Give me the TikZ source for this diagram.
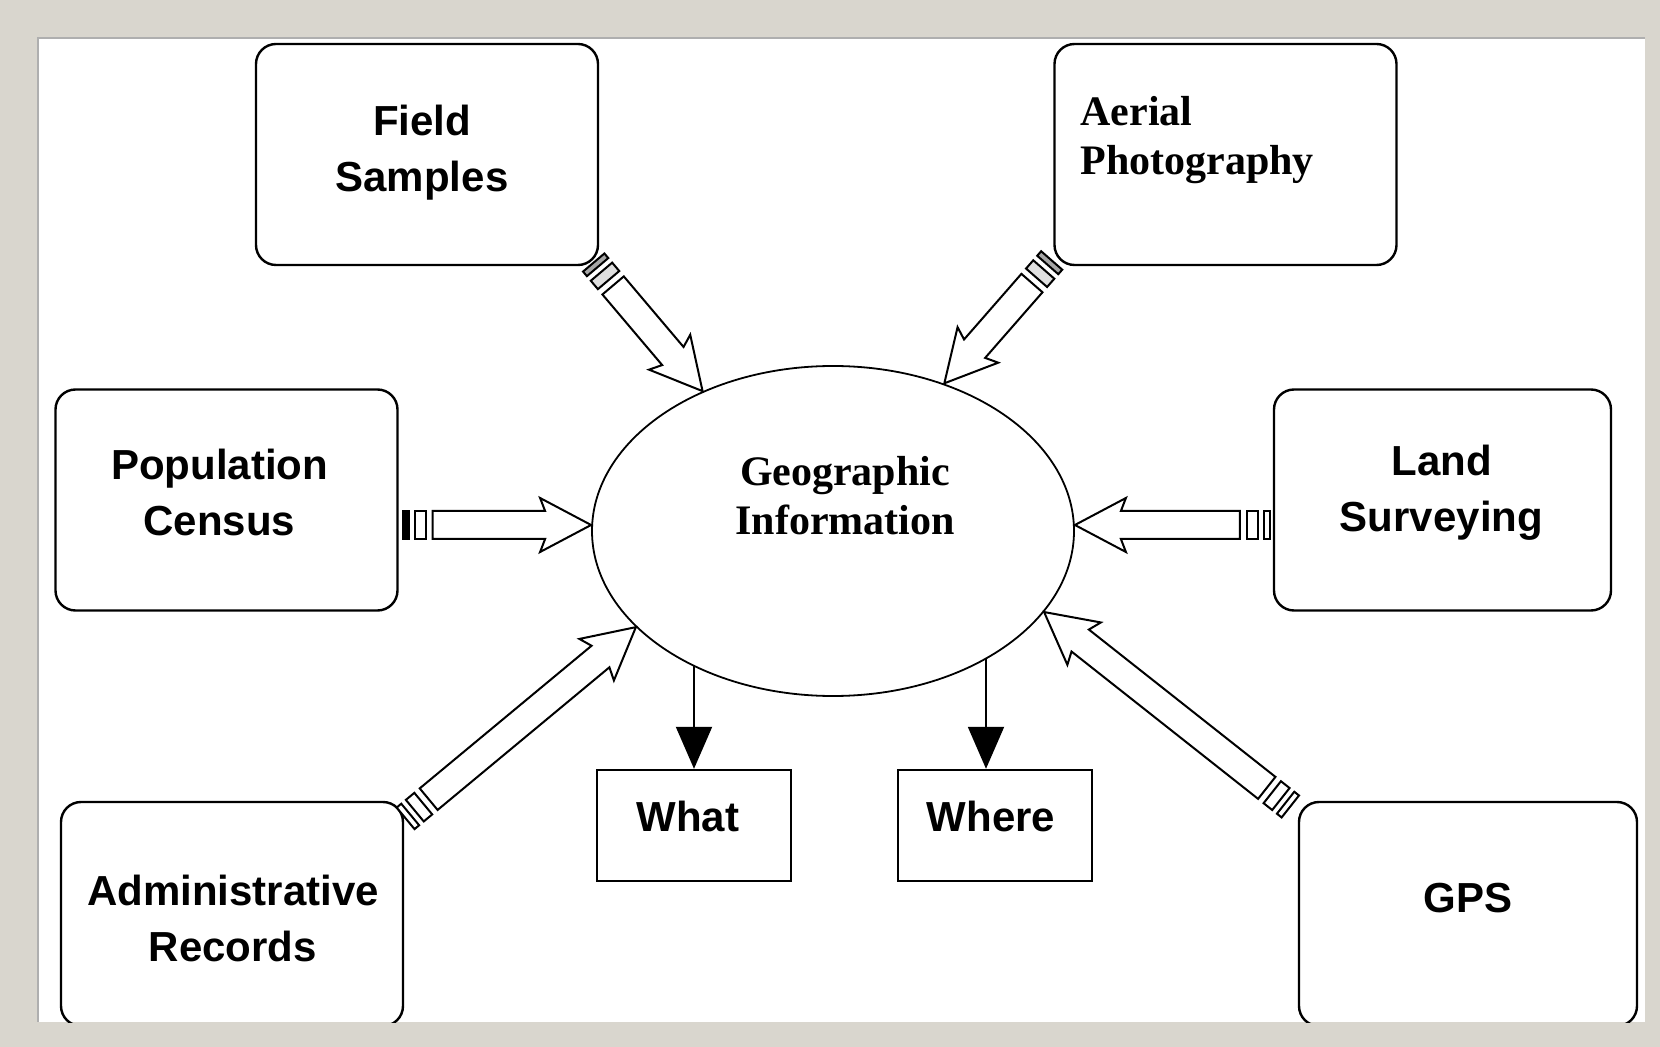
\documentclass[tikz,border=0pt]{standalone}
\usepackage{fontspec}
\newfontfamily\arialf{Liberation Sans}
\newfontfamily\timesf{Liberation Serif}
\usetikzlibrary{calc,arrows.meta,shapes.geometric}
\definecolor{framegray}{RGB}{217,214,206}
\definecolor{shadowgray}{RGB}{175,175,175}

% #1 tail coordinate, #2 tip coordinate, #3 fill of first tail block, #4 fill of second tail block
\newcommand\blockarrow[4]{%
  \path let \p1=($(#2)-(#1)$) in \pgfextra{%
    \pgfmathparse{atan2(\y1,\x1)}\xdef\baAng{\pgfmathresult}%
    \pgfmathparse{2*veclen(\x1,\y1)}\xdef\baLen{\pgfmathresult}};
  \begin{scope}[shift={(#1)}, rotate=\baAng, x=0.5pt, y=0.5pt]
    \draw[blockline, fill=#3] (7,-14) rectangle (13,14);
    \draw[blockline, fill=#4] (19,-14) rectangle (30,14);
    \draw[blockline, fill=white] (37,-14) -- ({\baLen-46},-14) -- ({\baLen-51},-27)
      -- (\baLen,0) -- ({\baLen-51},27) -- ({\baLen-46},14) -- (37,14) -- cycle;
  \end{scope}
}

\begin{document}
\begin{tikzpicture}[x=0.5pt,y=-0.5pt,
  box/.style={draw, line width=1.2pt, rounded corners=10pt, minimum width=171pt, minimum height=110.5pt, inner sep=0},
  sqbox/.style={draw, line width=1.2pt, minimum width=97pt, minimum height=55.5pt, inner sep=0},
  lbl/.style={font=\arialf\bfseries\fontsize{21}{28}\selectfont, align=center, inner sep=0},
  slbl/.style={font=\timesf\bfseries\fontsize{21}{24.5}\selectfont, inner sep=0},
  blockline/.style={line width=1pt, line join=miter},
  downarr/.style={line width=1pt, -{Triangle[width=18pt,length=21pt]}}]

\useasboundingbox (0,0) rectangle (1660,1047);
\fill[framegray] (0,0) rectangle (1660,1047);
\fill[white] (37,37) rectangle (1645,1022);
\draw[shadowgray, line width=1pt] (38,1022) -- (38,38) -- (1645,38);

\begin{scope}
\clip (37,37) rectangle (1645,1022);

% boxes
\node[box] (fs) at (427,154.5) {};
\node[box] (ap) at (1225.5,154.5) {};
\node[box] (pc) at (226.5,500) {};
\node[box, minimum width=168.5pt] (ls) at (1442.5,500) {};
\node[box, minimum height=112pt] (ar) at (232,914) {};
\node[box, minimum width=169pt, minimum height=112pt] (gps) at (1468,914) {};
\node[sqbox] (what) at (694,825.5) {};
\node[sqbox] (where) at (995,825.5) {};
\node[draw, ellipse, line width=0.9pt, minimum width=241pt, minimum height=165pt, inner sep=0] (geo) at (833,531) {};

% labels
\node[lbl] (fsT) at ([shift={(-5,-2)}]fs.center) {Field\\Samples};
\node[slbl, anchor=north west, align=left] (apT) at ([shift={(-145.5,-58.5)}]ap.center) {Aerial\\Photography};
\node[lbl] (pcT) at ([shift={(-7,-8)}]pc.center) {Population\\Census};
\node[lbl] (lsT) at ([shift={(-1,-7)}]ls.center) {Land\\Surveying};
\node[lbl] (arT) at ([shift={(1,4)}]ar.center) {Administrative\\Records};
\node[lbl] (gpsT) at ([shift={(0,-16)}]gps.center) {GPS};
\node[lbl] (whatT) at ([shift={(-6,-9)}]what.center) {What};
\node[lbl] (whereT) at ([shift={(-4,-9)}]where.center) {Where};
\node[slbl, align=center] (geoT) at ([shift={(12,-35)}]geo.center) {Geographic\\Information};

% connector end points
\coordinate (fsA) at ([shift={(-10,-9)}]fs.south east);
\coordinate (apA) at ([shift={(3,-11)}]ap.south west);
\coordinate (pcA) at ($(pc.east |- geo.west)+(-3,-6)$);
\coordinate (pcB) at ($(geo.west)+(0,-6)$);
\coordinate (lsA) at ($(ls.west |- geo.east)+(4,-6)$);
\coordinate (lsB) at ($(geo.east)+(0,-6)$);
\coordinate (arA) at ([shift={(-4,22)}]ar.north east);
\coordinate (gpsA) at ([shift={(-2,10)}]gps.north west);

% block arrows into the ellipse
\blockarrow{fsA}{geo.133}{gray!70}{gray!25}
\blockarrow{apA}{geo.53}{gray!70}{gray!25}
\blockarrow{pcA}{pcB}{black}{white}
\blockarrow{lsA}{lsB}{white}{white}
\blockarrow{arA}{geo.206}{white}{white}
\blockarrow{gpsA}{geo.339}{white}{white}

% down arrows
\coordinate (whereTop) at ([shift={(-9,0)}]where.north);
\draw[downarr] (geo.223.7 -| what.north) -- (what.north);
\draw[downarr] (geo.320 -| whereTop) -- (whereTop);
\end{scope}
\end{tikzpicture}
\end{document}
